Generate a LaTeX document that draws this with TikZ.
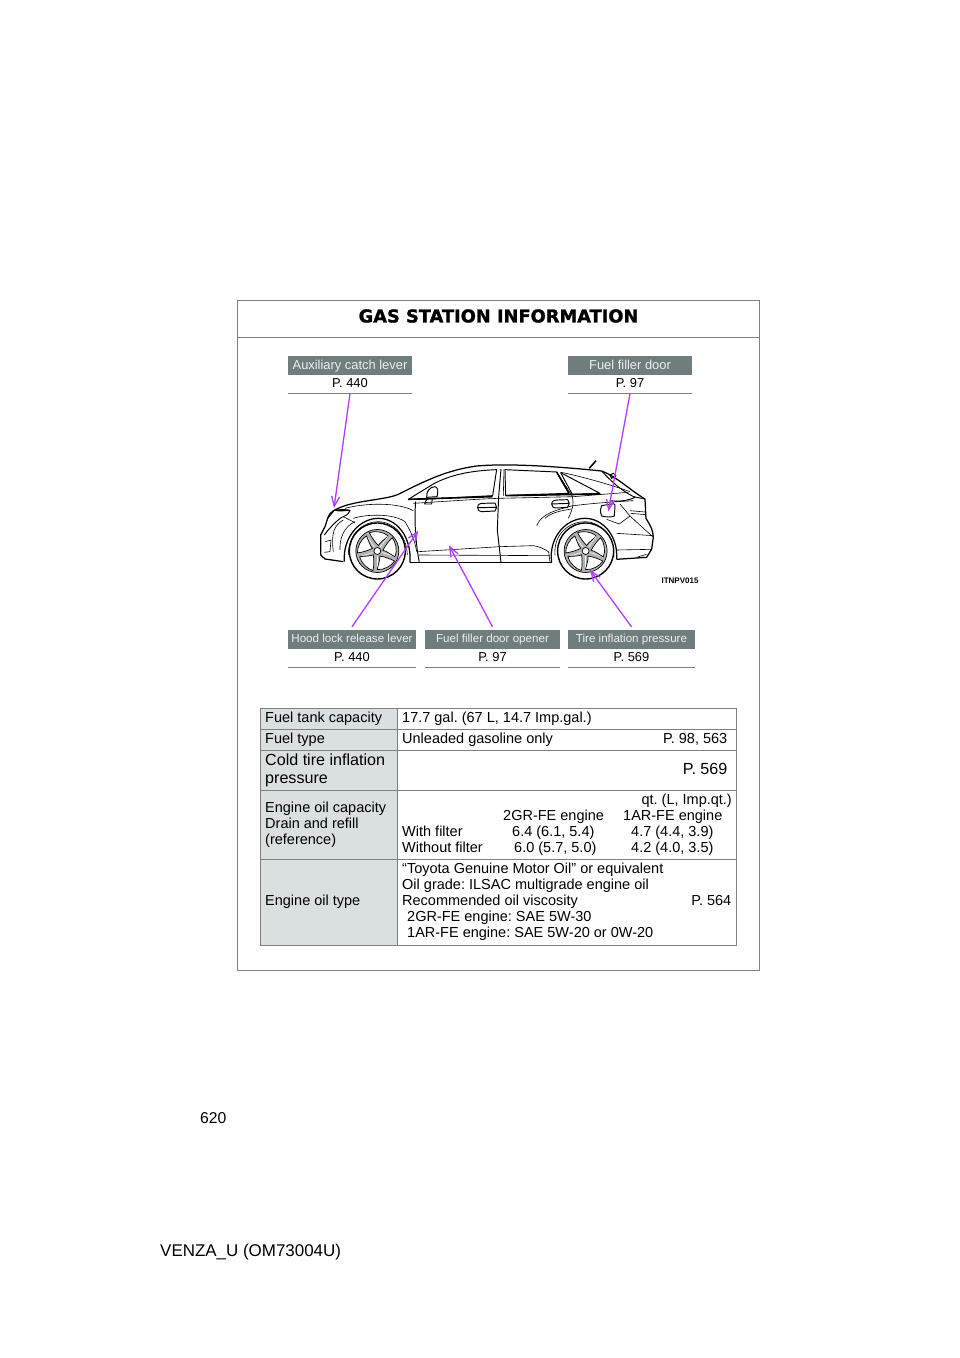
\documentclass[tikz,border=0pt]{standalone}
\usepackage{fontspec}
\setmainfont{Liberation Sans}
\newfontfamily\titlefont[FakeBold=1.2]{DejaVu Sans}
\usetikzlibrary{arrows.meta}
\definecolor{barcol}{HTML}{6F7D7D}
\definecolor{cellcol}{HTML}{DADFDF}
\definecolor{rulecol}{HTML}{808080}
\definecolor{arrowcol}{HTML}{B43CFF}
\tikzset{
  bar/.style={fill=barcol,text=white!88!barcol,inner sep=0pt,minimum height=19pt,text depth=2pt,font=\fontsize{12.9}{14}\selectfont},
  pagelbl/.style={inner sep=0pt,minimum height=18pt,text depth=2.5pt,font=\fontsize{12.9}{14}\selectfont},
  txt/.style={inner sep=0pt,anchor=base west,font=\fontsize{14.5}{16}\selectfont},
  txtr/.style={txt,anchor=base east},
  txtbig/.style={txt,font=\fontsize{16.1}{18}\selectfont},
  pointer/.style={arrowcol,line width=1.3pt,-{Straight Barb[length=10pt,width=8pt]}},
  carline/.style={line width=0.95pt,line join=round},
  carthin/.style={line width=0.6pt,line join=round},
}
\begin{document}
\frenchspacing
\begin{tikzpicture}[x=1pt,y=-1pt]
\useasboundingbox (0,0) rectangle (960,1358);
% frame
\draw[rulecol,line width=0.9pt] (237.5,300.5) rectangle (759.5,970.5);
\draw[rulecol,line width=0.9pt] (237.5,337.5) -- (759.5,337.5);
\node[inner sep=0pt,font=\titlefont\bfseries\fontsize{17.8}{20}\selectfont] (title) at (498.5,316) {GAS STATION INFORMATION};
% car, in units of a third of a pixel
\begin{scope}[shift={(300,440)},x=0.3333pt,y=-0.3333pt]
  \draw[carline,line width=1.25pt] (130,365) -- (75,357) -- (62,345) -- (62,285) -- (75,260) -- (83,235)
    .. controls (88,215) and (105,208) .. (135,197) .. controls (190,180) and (260,178) .. (295,163)
    .. controls (370,125) and (440,90) .. (530,78) .. controls (620,70) and (760,78) .. (905,93)
    .. controls (950,110) and (990,150) .. (1035,177) -- (1038,235) .. controls (1050,255) and (1060,270) .. (1060,292)
    -- (1055,328) -- (1040,352) -- (950,358);
  \draw[carline,line width=1.25pt] (330,367) -- (755,367);
  \draw[carline,line width=1.25pt] (133,365) .. controls (128,290) and (180,235) .. (235,235) .. controls (290,235) and (335,290) .. (330,367);
  \draw[carline,line width=1.25pt] (755,367) .. controls (745,290) and (800,235) .. (855,235) .. controls (910,235) and (955,290) .. (950,358);
  \draw[carthin] (145,345) .. controls (145,280) and (190,245) .. (235,245) .. controls (280,245) and (320,285) .. (322,345);
  \draw[carthin] (765,345) .. controls (760,280) and (810,245) .. (855,245) .. controls (900,245) and (940,285) .. (942,350);
  % wheels
  \foreach \cx in {232,857} {
    \begin{scope}[shift={(\cx,333)}]
    \fill[white] (0,0) circle (28pt);
    \fill[black!30] (0,0) circle (21.5pt);
    \draw[line width=1.4pt] (0,0) circle (28pt);
    \draw[line width=0.7pt] (0,0) circle (21.5pt);
    \fill[white] (0,0) circle (3.5pt);
    \draw[line width=0.7pt] (0,0) circle (3.5pt);
    \foreach \a in {0,72,144,216,288} {
      \draw[line width=0.7pt,fill=white,rotate=\a] (1pt,5.5pt) .. controls (3pt,9pt) and (8pt,12pt) .. (11pt,15pt) .. controls (6pt,19.5pt) and (-3pt,20.3pt) .. (-8pt,18.3pt) .. controls (-6pt,14pt) and (-2.5pt,9pt) .. (1pt,5.5pt) -- cycle;
      \draw[white,line width=0.5pt,rotate=\a+36] (0pt,5pt) -- (0pt,19pt);
    }
    \end{scope}
  }
  % windows
  \draw[carline] (325,178) -- (400,132) .. controls (450,105) and (510,92) .. (590,89) -- (578,167) -- (380,177) -- cycle;
  \draw[carline] (615,89) -- (770,96) -- (807,160) -- (617,166) -- cycle;
  \draw[carline] (782,98) -- (900,160) -- (817,163) -- cycle;
  \draw[carline,line width=1.6pt] (325,178) -- (578,170);
  \draw[carline,line width=1.6pt] (617,167) -- (900,162);
  \draw[carline,line width=1.5pt] (770,96) -- (807,160);
  \draw[carline] (603,87) -- (596,170) -- (592,270) -- (603,367);
  \draw[carthin] (612,88) -- (610,168);
  \draw[carthin] (770,96) -- (815,165) .. controls (825,190) and (815,215) .. (805,235);
  % doors and sill
  \draw[carline] (347,185) .. controls (343,230) and (345,300) .. (358,367);
  \draw[carthin] (340,190) -- (530,178) -- (595,175) -- (820,170) -- (985,157);
  \draw[carthin] (355,335) -- (600,320) -- (700,317) .. controls (720,320) and (735,328) .. (748,337);
  \draw[carthin] (357,345) -- (750,347);
  \draw[carthin] (746,335) -- (750,367);
  \draw[carthin] (710,257) .. controls (725,220) and (770,210) .. (815,198) .. controls (870,190) and (950,185) .. (1000,182);
  \draw[carthin] (735,235) .. controls (750,220) and (780,212) .. (815,207);
  % mirror, handles, filler door, antenna
  \draw[carline,fill=white] (380,172) .. controls (378,155) and (390,140) .. (405,140) .. controls (415,142) and (415,155) .. (411,170) -- cycle;
  \draw[carline] (380,178) -- (374,192) -- (395,192) -- (397,175);
  \draw[carline] (533,203) .. controls (533,192) and (540,190) .. (550,190) -- (585,189) -- (590,202) -- (585,213) -- (545,215) .. controls (537,215) and (533,210) .. (533,203) -- (590,202);
  \draw[carline] (755,192) .. controls (755,182) and (765,180) .. (775,180) -- (803,179) -- (808,190) -- (803,202) -- (770,204) .. controls (760,204) and (755,200) .. (755,192) -- (808,190);
  \draw[carline] (905,197) -- (940,191) .. controls (945,191) and (945,195) .. (945,200) -- (943,228) .. controls (935,233) and (915,231) .. (905,228) .. controls (900,215) and (900,205) .. (905,197) -- cycle;
  \draw[line width=1.5pt] (868,85) -- (888,62);
  % front end
  \draw[carline,fill=black!80] (103,211) .. controls (120,208) and (140,208) .. (150,211) .. controls (135,212) and (120,214) .. (103,211) -- cycle;
  \draw[carline] (103,211) -- (83,235) (150,211) .. controls (145,225) and (135,228) .. (130,230) .. controls (115,235) and (85,268) .. (73,285);
  \draw[carthin] (130,230) -- (165,248) (130,240) .. controls (105,255) and (92,275) .. (100,335);
  \draw[carthin] (135,205) .. controls (190,190) and (290,185) .. (340,212);
  \draw[carthin] (160,235) .. controls (200,222) and (280,220) .. (315,245) .. controls (330,270) and (345,300) .. (350,335);
  \draw[carthin] (76,305) -- (93,300) -- (90,335) -- (73,337) (120,330) .. controls (118,300) and (130,260) .. (165,245);
  % rear end
  \draw[carline] (905,93) .. controls (930,120) and (960,150) .. (1005,172) .. controls (985,182) and (955,186) .. (930,182);
  \draw[carline] (1000,170) -- (1035,177);
  \draw[carline] (940,100) -- (948,108) -- (935,115) -- (930,105) -- cycle;
  \draw[carthin] (960,192) -- (990,228) -- (958,252) -- (920,238) (990,228) -- (1058,290);
  \draw[carthin] (990,212) -- (1035,216) (992,220) -- (1037,224);
  \draw[carthin] (950,280) -- (1060,287) (950,330) -- (1055,328) (1010,352) -- (1040,343);
  \draw[carthin] (783,97) .. controls (850,110) and (950,140) .. (990,155);
  % points the arrows end at
  \coordinate (auxtip) at (102,204);
  \coordinate (fillertip) at (925,214);
  \coordinate (hoodtip) at (355,272);
  \coordinate (openertip) at (447,316);
  \coordinate (tiretip) at (870,390);
\end{scope}
\node[inner sep=0pt,font=\bfseries\fontsize{8}{9}\selectfont] (code) at (680,581) {ITNPV015};
% labels above and below the car
\foreach \nm/\x/\wid/\y/\sz/\lab/\pg in {aux/350/124/365.5/12.9/Auxiliary catch lever/P. 440, filler/630/124/365.5/12.9/Fuel filler door/P. 97, hood/352/128/639.5/11.6/Hood lock release lever/P. 440, opener/492.5/135/639.5/11.6/Fuel filler door opener/P. 97, tire/631.5/127/639.5/11.6/Tire inflation pressure/P. 569} {
  \node[bar,minimum width=\wid pt,font=\fontsize{\sz}{14}\selectfont] (\nm) at (\x,\y) {\lab};
  \node[pagelbl,minimum width=\wid pt,anchor=north] (\nm page) at (\nm.south) {\pg};
  \draw[rulecol,line width=0.8pt] (\nm page.south west) -- (\nm page.south east);
}
\draw[pointer] (auxpage.south) -- (auxtip);
\draw[pointer] (fillerpage.south) -- (fillertip);
\draw[pointer] ([yshift=3pt]hood.north) -- (hoodtip);
\draw[pointer] ([yshift=3pt]opener.north) -- (openertip);
\draw[pointer] ([yshift=3pt]tire.north) -- (tiretip);
% table
\foreach \ya/\yb in {708.5/729.5, 729.5/750.5, 750.5/790.5, 790.5/859.5, 859.5/945.5} {
  \fill[cellcol] (260.5,\ya) rectangle (397.5,\yb);
  \draw[rulecol,line width=1.1pt] (260.5,\ya) rectangle (736.5,\yb);
}
\draw[rulecol,line width=1.1pt] (397.5,708.5) -- (397.5,945.5);
\foreach \nm/\x/\y/\t in {tank/265/722.3/Fuel tank capacity, tankval/402/722.3/{17.7 gal. (67 L, 14.7 Imp.gal.)}, type/265/743/Fuel type, typeval/402/743/Unleaded gasoline only, capa/265/812.3/Engine oil capacity, drain/265/828.3/Drain and refill, refer/265/844.3/(reference), twogr/503/820/2GR-FE engine, onear/623/820/1AR-FE engine, with/402/836/With filter, withtwo/512/836/{6.4 (6.1, 5.4)}, withone/631/836/{4.7 (4.4, 3.9)}, without/402/852/Without filter, withouttwo/514/852/{6.0 (5.7, 5.0)}, withoutone/631/852/{4.2 (4.0, 3.5)}, oiltype/265/905.6/Engine oil type, genuine/402/873.6/“Toyota Genuine Motor Oil” or equivalent, grade/402/889.6/Oil grade: ILSAC multigrade engine oil, visc/402/905.6/Recommended oil viscosity, saetwo/407/921.6/2GR-FE engine: SAE 5W-30, saeone/407/937.7/1AR-FE engine: SAE 5W-20 or 0W-20} {
  \node[txt] (\nm) at (\x,\y) {\t};
}
\node[txtbig] (cold) at (265,765) {Cold tire inflation};
\node[txtbig] (press) at (265,783) {pressure};
\node[txtr] (typepg) at (727.5,743) {P. 98, 563};
\node[txtr,font=\fontsize{16.1}{18}\selectfont] (coldpg) at (727.5,774) {P. 569};
\node[txtr] (unit) at (732,804.3) {qt. (L, Imp.qt.)};
\node[txtr] (oilpg) at (731.5,905.6) {P. 564};
% page foot
\node[txt,font=\fontsize{15.7}{18}\selectfont] (pagenum) at (200,1123) {620};
\node[txt,font=\fontsize{16.95}{18}\selectfont] (footer) at (160,1256) {VENZA\_U (OM73004U)};
\end{tikzpicture}
\end{document}
